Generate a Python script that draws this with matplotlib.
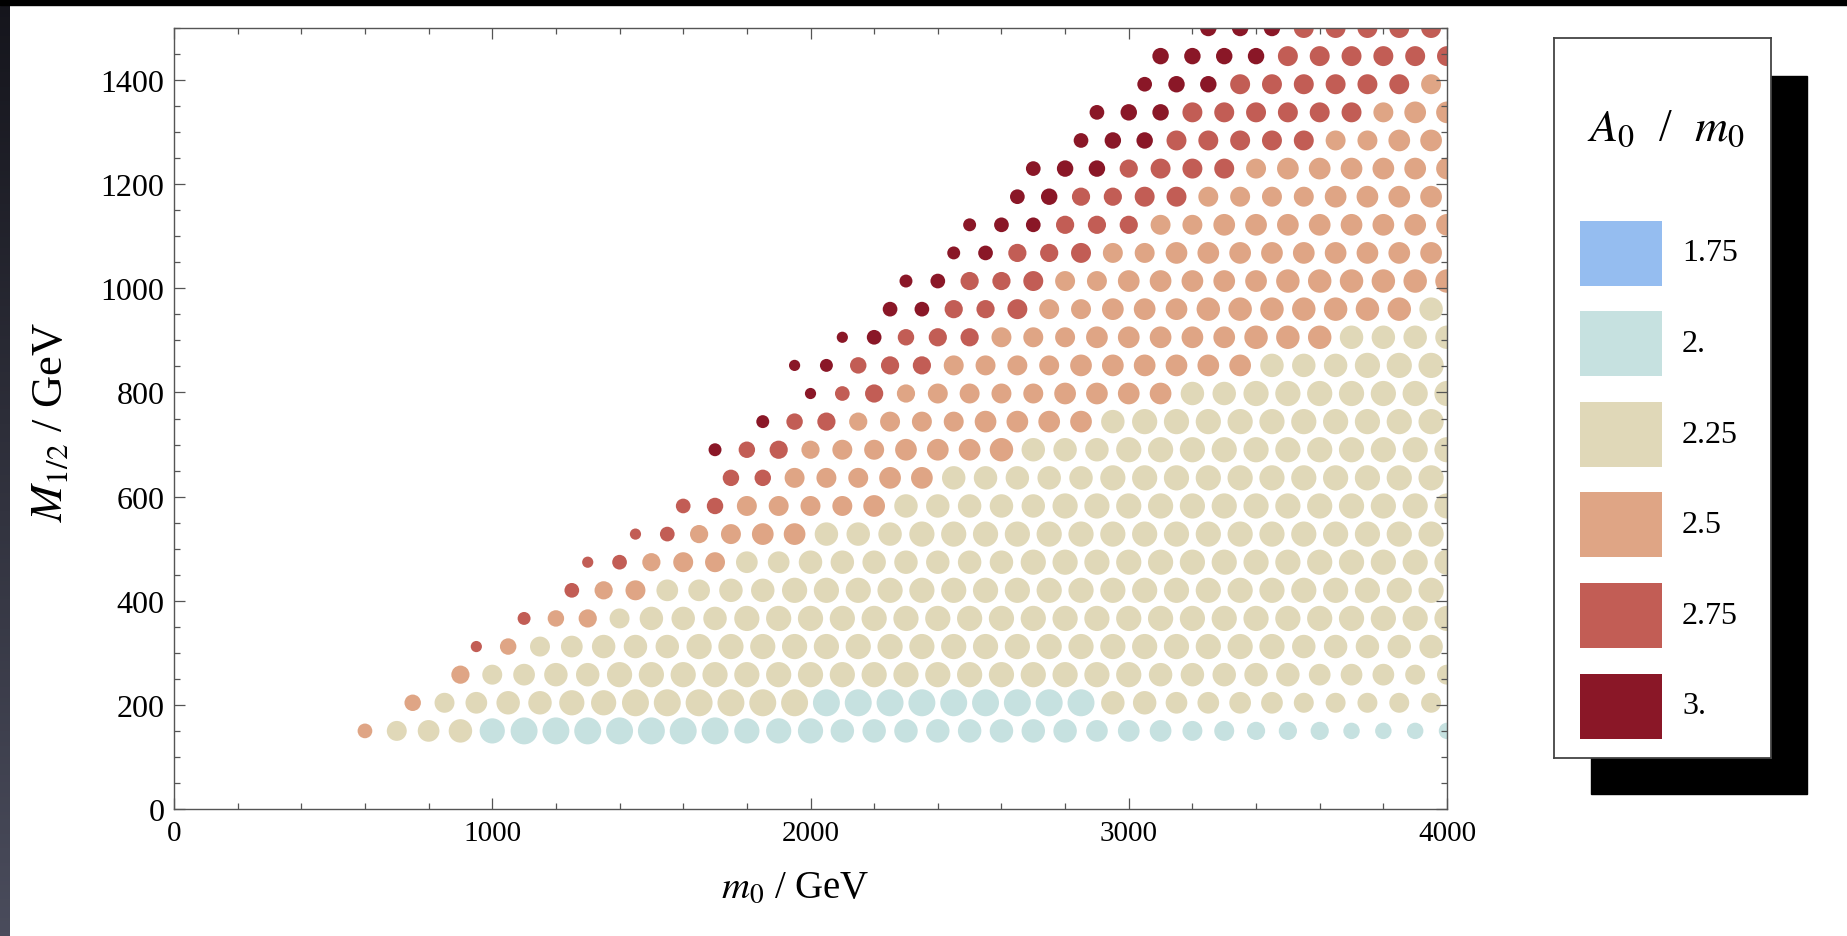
import matplotlib
matplotlib.use("Agg")
import matplotlib.pyplot as plt
import numpy as np
from matplotlib.patches import Rectangle
from matplotlib.ticker import MultipleLocator

plt.rcParams["font.family"] = ["Liberation Serif", "DejaVu Serif"]
plt.rcParams["mathtext.fontset"] = "stix"

# scan grid: one row per M_1/2 value, m0 in steps of 100 GeV
ROW_M12 = [150, 204, 258, 312, 366, 420, 474, 528, 582, 636, 690, 744, 798,
           852, 906, 960, 1014, 1068, 1122, 1176, 1230, 1284, 1338, 1392, 1446, 1500]
ROW_M0_FIRST = [600, 750, 900, 950, 1100, 1250, 1300, 1450, 1600, 1750, 1700, 1850, 2000,
                1950, 2100, 2250, 2300, 2450, 2500, 2650, 2700, 2850, 2900, 3050, 3100, 3250]
ROW_M0_LAST = [4000, 3950] * 13
M0_STEP = 100

# A0/m0 along each row, as (value, number of points)
A0_RUNS = [
    [(2.5, 1), (2.25, 3), (2.0, 31)],
    [(2.5, 1), (2.25, 12), (2.0, 9), (2.25, 11)],
    [(2.5, 1), (2.25, 31)],
    [(2.75, 1), (2.5, 1), (2.25, 29)],
    [(2.75, 1), (2.5, 2), (2.25, 27)],
    [(2.75, 1), (2.5, 2), (2.25, 25)],
    [(2.75, 2), (2.5, 3), (2.25, 23)],
    [(2.75, 2), (2.5, 4), (2.25, 20)],
    [(2.75, 2), (2.5, 5), (2.25, 18)],
    [(2.75, 2), (2.5, 5), (2.25, 16)],
    [(3.0, 1), (2.75, 2), (2.5, 7), (2.25, 14)],
    [(3.0, 1), (2.75, 2), (2.5, 8), (2.25, 11)],
    [(3.0, 1), (2.75, 2), (2.5, 9), (2.25, 9)],
    [(3.0, 2), (2.75, 3), (2.5, 10), (2.25, 6)],
    [(3.0, 2), (2.75, 3), (2.5, 11), (2.25, 4)],
    [(3.0, 2), (2.75, 3), (2.5, 12), (2.25, 1)],
    [(3.0, 2), (2.75, 3), (2.5, 13)],
    [(3.0, 2), (2.75, 3), (2.5, 11)],
    [(3.0, 3), (2.75, 3), (2.5, 10)],
    [(3.0, 2), (2.75, 4), (2.5, 8)],
    [(3.0, 3), (2.75, 4), (2.5, 7)],
    [(3.0, 3), (2.75, 5), (2.5, 4)],
    [(3.0, 3), (2.75, 6), (2.5, 3)],
    [(3.0, 3), (2.75, 6), (2.5, 1)],
    [(3.0, 4), (2.75, 6)],
    [(3.0, 3), (2.75, 5)],
]

# relative dot size of each point (0 = smallest, 9 = largest)
DOT_SCALE = [
    "2567" + "8" + "9" * 7 + "888" + "7" * 8 + "666" + "55" + "444" + "3333",
    "3567788" + "9" * 15 + "77" + "6666" + "55555",
    "45677" + "8" * 17 + "7" * 5 + "666" + "55",
    "0356777" + "8" * 19 + "7" * 5,
    "1345777" + "8" * 23,
    "24566" + "77" + "8" * 21,
    "02455" + "66" + "7" * 7 + "8" * 14,
    "024566777" + "8" * 17,
    "235555677777" + "8" * 13,
    "3355566" + "7" * 5 + "8" * 11,
    "1344556667777" + "8" * 11,
    "134455566667" + "8" * 10,
    "02445555666677" + "8" * 7,
    "013445555" + "6" * 6 + "777" + "888",
    "02344555" + "6" * 5 + "7" * 7,
    "2244555666" + "7" * 8,
    "1244555" + "6" * 5 + "7" * 6,
    "1244555" + "6" * 9,
    "12244455" + "6" * 8,
    "234455" + "5" * 4 + "6" * 4,
    "23345555" + "6" * 6,
    "233" + "5" * 7 + "66",
    "233" + "5" * 7 + "66",
    "233" + "5" * 7,
    "3333" + "5" * 6,
    "333" + "5" * 5,
]

A0_LEVELS = [1.75, 2.0, 2.25, 2.5, 2.75, 3.0]
A0_LABELS = ["1.75", "2.", "2.25", "2.5", "2.75", "3."]
A0_COLORS = ["#95BDF0", "#C6E1E0", "#E0D8B8", "#DFA585", "#C25D55", "#8A1727"]

W, H, DPI = 1847, 937, 100


def main():
    m0, m12, a0, scale = [], [], [], []
    for y, first, last, runs, sc in zip(ROW_M12, ROW_M0_FIRST, ROW_M0_LAST, A0_RUNS, DOT_SCALE):
        xs = np.arange(first, last + 1, M0_STEP)
        vals = [v for v, n in runs for _ in range(n)]
        assert len(xs) == len(vals) == len(sc), (y, len(xs), len(vals), len(sc))
        m0.extend(xs)
        m12.extend([y] * len(xs))
        a0.extend(vals)
        scale.extend(int(c) for c in sc)

    color_of = dict(zip(A0_LEVELS, A0_COLORS))
    colors = [color_of[v] for v in a0]
    diam_px = 11.2 + 1.75 * np.array(scale)
    sizes = (diam_px * 72 / DPI) ** 2

    fig = plt.figure(figsize=(W / DPI, H / DPI), dpi=DPI)
    fig.patch.set_facecolor("white")

    # slide background bits
    fig.patches.append(Rectangle((0, 1 - 6 / H), 1, 6 / H, transform=fig.transFigure,
                                 color="black", zorder=0))
    strip = fig.add_axes([0, 0, 10 / W, 1])
    grad = np.linspace(0, 1, 256)[:, None]
    strip.imshow(grad, aspect="auto", cmap=matplotlib.colors.LinearSegmentedColormap.from_list(
        "bg", ["#15151c", "#4a4c5c"]), extent=[0, 1, 0, 1], origin="upper")
    strip.set_axis_off()

    ax = fig.add_axes([174 / W, 1 - 810 / H, (1447 - 174) / W, (810 - 29) / H])
    ax.scatter(m0, m12, s=sizes, c=colors, linewidths=0)

    ax.set_xlim(0, 4000)
    ax.set_ylim(0, 1500)
    ax.xaxis.set_major_locator(MultipleLocator(1000))
    ax.xaxis.set_minor_locator(MultipleLocator(200))
    ax.yaxis.set_major_locator(MultipleLocator(200))
    ax.yaxis.set_minor_locator(MultipleLocator(50))
    ax.set_yticks(range(0, 1401, 200))
    ax.tick_params(which="both", direction="in", top=True, right=True,
                   color="#555555", width=0.9)
    ax.tick_params(which="major", length=8)
    ax.tick_params(which="minor", length=4.5)
    ax.tick_params(axis="x", pad=8, labelsize=21)
    ax.tick_params(axis="y", pad=7, labelsize=23)
    for sp in ax.spines.values():
        sp.set_color("#555555")
        sp.set_linewidth(1.0)

    ax.set_xlabel(r"$m_0$ / GeV", fontsize=28, va="center")
    ax.xaxis.set_label_coords(0.488, -0.101)
    ax.set_ylabel(r"$M_{1/2}$ / GeV", fontsize=32, va="center")
    ax.yaxis.set_label_coords(-0.097, 0.497)

    # legend with drop shadow
    fig.patches.append(Rectangle((1591 / W, 1 - 795 / H), 216 / W, 718 / H,
                                 transform=fig.transFigure, color="black", zorder=1))
    leg = fig.add_axes([1554 / W, 1 - 759 / H, 217 / W, 720 / H], zorder=2)
    leg.set_xlim(0, 217)
    leg.set_ylim(720, 0)
    leg.set_xticks([])
    leg.set_yticks([])
    for sp in leg.spines.values():
        sp.set_color("#444444")
        sp.set_linewidth(1.3)
    leg.text(112, 91, r"$A_0$  /  $m_0$", fontsize=33, ha="center", va="center")
    for i, (lab, col) in enumerate(zip(A0_LABELS, A0_COLORS)):
        yc = 215 + i * 90.6
        leg.add_patch(Rectangle((26, yc - 32.5), 82, 65, color=col, linewidth=0))
        leg.text(128, yc, lab, fontsize=23, ha="left", va="center")

    fig.savefig("out.png", dpi=DPI)


if __name__ == "__main__":
    main()
